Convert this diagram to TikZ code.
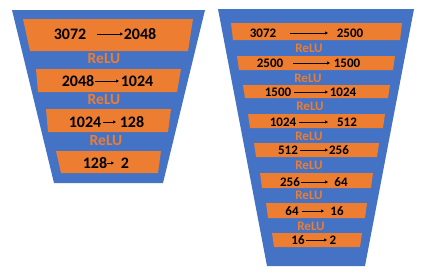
\documentclass[tikz,border=0pt]{standalone}
\usepackage{fontspec}
\setmainfont{Carlito}
\usetikzlibrary{arrows.meta}
\definecolor{pblue}{HTML}{4472C4}
\definecolor{porange}{HTML}{ED7D31}
\tikzset{
  numL/.style={font=\bfseries\fontsize{16}{16}\selectfont, inner sep=0pt, text=black},
  numR/.style={font=\bfseries\fontsize{13}{13}\selectfont, inner sep=0pt, text=black},
  reluL/.style={font=\bfseries\fontsize{15.5}{15.5}\selectfont, inner sep=0pt, text=porange},
  reluR/.style={font=\bfseries\fontsize{13}{13}\selectfont, inner sep=0pt, text=porange},
  conn/.style={-{Triangle[length=3pt,width=3pt]}, line width=0.7pt, black},
}
\newcommand{\obar}[6]{\fill[porange] (#3,#1) -- (#4,#1) -- (#6,#2) -- (#5,#2) -- cycle;}
\begin{document}
\begin{tikzpicture}[x=1pt,y=-1pt]
\useasboundingbox[fill=white] (0,0) rectangle (423,271);
% left funnel
\fill[pblue] (12,10) -- (205,10) -- (163,183) -- (54,183) -- cycle;
\obar{19}{51}{23}{193}{30}{188}
\obar{69}{92}{36}{181}{38}{177}
\obar{109}{132}{46}{171}{48}{168}
\obar{151}{173}{56}{161}{61}{158}
\node[numL] (l1a) at (70,34) {3072};
\node[numL] (l1b) at (140,34) {2048};
\coordinate (l1s) at (97,34); \coordinate (l1e) at (123,34);
\draw[conn] (l1s) -- (l1e);
\node[reluL] (r1) at (104,59) {ReLU};
\node[numL] (l2a) at (78,81) {2048};
\node[numL] (l2b) at (137,81) {1024};
\coordinate (l2s) at (95,81); \coordinate (l2e) at (119,81);
\draw[conn] (l2s) -- (l2e);
\node[reluL] (r2) at (104,100) {ReLU};
\node[numL] (l3a) at (85,122) {1024};
\node[numL] (l3b) at (132,122) {128};
\coordinate (l3s) at (103,122); \coordinate (l3e) at (116,122);
\draw[conn] (l3s) -- (l3e);
\node[reluL] (r3) at (106,141) {ReLU};
\node[numL] (l4a) at (95,163) {128};
\node[numL] (l4b) at (125,163) {2};
\coordinate (l4s) at (107,163); \coordinate (l4e) at (114,163);
\draw[conn] (l4s) -- (l4e);
% right funnel
\fill[pblue] (218,9) -- (414,9) -- (365,266) -- (267,266) -- cycle;
\obar{23}{40}{231}{402}{233}{400}
\obar{56}{70}{237}{395}{239}{393}
\obar{85}{98}{243}{390}{245}{388}
\obar{114}{128}{248}{385}{250}{383}
\obar{143}{157}{254}{379}{256}{377}
\obar{173}{188}{260}{373}{262}{371}
\obar{203}{218}{266}{367}{268}{365}
\obar{233}{247}{272}{362}{274}{360}
\node[numR] (a1) at (263,33) {3072};
\node[numR] (b1) at (350,33) {2500};
\coordinate (s1) at (290,33); \coordinate (e1) at (328,33);
\draw[conn] (s1) -- (e1);
\node[reluR] (q1) at (309,48) {ReLU};
\node[numR] (a2) at (270,63) {2500};
\node[numR] (b2) at (347,63) {1500};
\coordinate (s2) at (293,63); \coordinate (e2) at (330,63);
\draw[conn] (s2) -- (e2);
\node[reluR] (q2) at (308,78) {ReLU};
\node[numR] (a3) at (278,92) {1500};
\node[numR] (b3) at (343,92) {1024};
\coordinate (s3) at (294,92); \coordinate (e3) at (328,92);
\draw[conn] (s3) -- (e3);
\node[reluR] (q3) at (310,106) {ReLU};
\node[numR] (a4) at (283,122) {1024};
\node[numR] (b4) at (347,122) {512};
\coordinate (s4) at (299,122); \coordinate (e4) at (328,122);
\draw[conn] (s4) -- (e4);
\node[reluR] (q4) at (309,136) {ReLU};
\node[numR] (a5) at (288,150) {512};
\node[numR] (b5) at (339,150) {256};
\coordinate (s5) at (300,150); \coordinate (e5) at (328,150);
\draw[conn] (s5) -- (e5);
\node[reluR] (q5) at (309,165) {ReLU};
\node[numR] (a6) at (290,182) {256};
\node[numR] (b6) at (341,182) {64};
\coordinate (s6) at (301,182); \coordinate (e6) at (328,182);
\draw[conn] (s6) -- (e6);
\node[reluR] (q6) at (309,195) {ReLU};
\node[numR] (a7) at (292,211) {64};
\node[numR] (b7) at (337,211) {16};
\coordinate (s7) at (302,211); \coordinate (e7) at (324,211);
\draw[conn] (s7) -- (e7);
\node[reluR] (q7) at (311,226) {ReLU};
\node[numR] (a8) at (298,240) {16};
\node[numR] (b8) at (333,240) {2};
\coordinate (s8) at (306,240); \coordinate (e8) at (327,240);
\draw[conn] (s8) -- (e8);
\end{tikzpicture}
\end{document}
